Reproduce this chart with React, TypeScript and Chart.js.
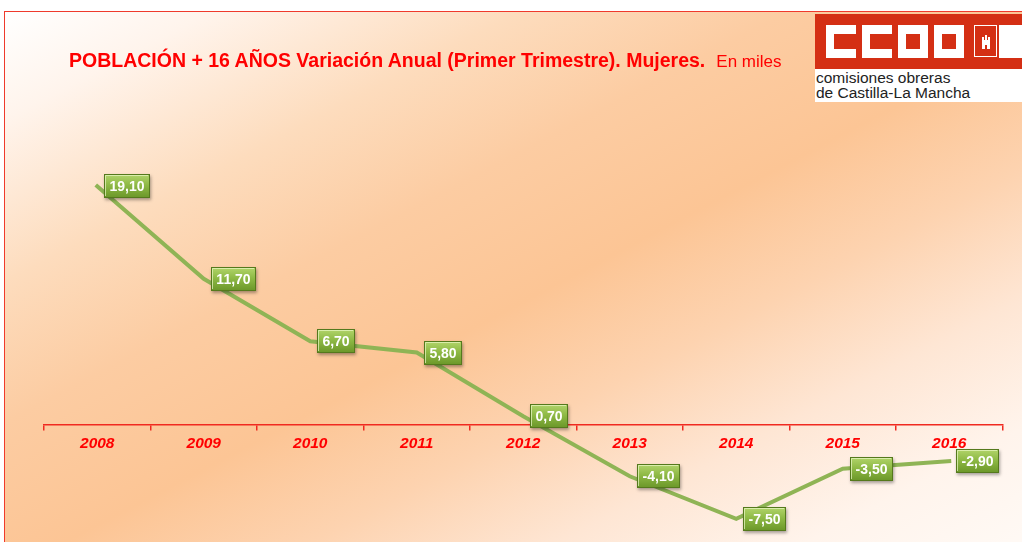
import React, { useEffect, useRef } from 'react';
import { Chart, registerables } from 'chart.js';

Chart.register(...registerables);

const years = ['2008', '2009', '2010', '2011', '2012', '2013', '2014', '2015', '2016'];
const values = [19.1, 11.7, 6.7, 5.8, 0.7, -4.1, -7.5, -3.5, -2.9];
const titleMain = 'POBLACIÓN + 16 AÑOS Variación Anual (Primer Trimestre). Mujeres.';
const titleUnit = 'En miles';
const logoLines = ['comisiones obreras', 'de Castilla-La Mancha'];

const FONT = '"Liberation Sans", Arial, Helvetica, sans-serif';
const LOGO_RED = '#d42f14';

const labelPlugin = {
  id: 'boxLabels',
  afterDatasetsDraw(chart: any) {
    const ctx = chart.ctx as CanvasRenderingContext2D;
    const meta = chart.getDatasetMeta(0);
    ctx.save();
    ctx.font = `bold 14px ${FONT}`;
    meta.data.forEach((pt: any, i: number) => {
      const text = values[i].toFixed(2).replace('.', ',');
      const tw = ctx.measureText(text).width;
      const w = Math.round(tw + 11);
      const h = 24;
      const x = Math.round(pt.x + 7);
      const y = Math.round(pt.y - h / 2);
      ctx.shadowColor = 'rgba(0,0,0,0.35)';
      ctx.shadowBlur = 3;
      ctx.shadowOffsetX = 1;
      ctx.shadowOffsetY = 2;
      const g = ctx.createLinearGradient(0, y, 0, y + h);
      g.addColorStop(0, '#b3d56c');
      g.addColorStop(0.45, '#8fba46');
      g.addColorStop(1, '#6a9628');
      ctx.fillStyle = g;
      ctx.fillRect(x, y, w, h);
      ctx.shadowColor = 'transparent';
      ctx.strokeStyle = '#55791d';
      ctx.lineWidth = 1;
      ctx.strokeRect(x + 0.5, y + 0.5, w - 1, h - 1);
      ctx.strokeStyle = 'rgba(235,250,200,0.7)';
      ctx.beginPath();
      ctx.moveTo(x + 1.5, y + h - 2);
      ctx.lineTo(x + 1.5, y + 1.5);
      ctx.lineTo(x + w - 2, y + 1.5);
      ctx.stroke();
      ctx.fillStyle = '#ffffff';
      ctx.textAlign = 'center';
      ctx.textBaseline = 'middle';
      ctx.fillText(text, x + w / 2, y + h / 2 + 1);
    });
    ctx.restore();
  },
};

function Letter({ left, open }: { left: number; open: boolean }) {
  return (
    <div style={{ position: 'absolute', left, top: 11, width: 30, height: 33, background: '#ffffff' }}>
      <div style={{ position: 'absolute', left: 8, top: 9, width: open ? 22 : 14, height: 15, background: LOGO_RED }} />
    </div>
  );
}

export default function App() {
  const ref = useRef<HTMLCanvasElement | null>(null);

  useEffect(() => {
    if (!ref.current) return;
    const chart = new Chart(ref.current, {
      type: 'line',
      data: {
        labels: years,
        datasets: [
          {
            data: values,
            borderColor: '#8fb455',
            borderWidth: 4,
            pointRadius: 0,
            tension: 0,
            borderCapStyle: 'square',
            fill: false,
          },
        ],
      },
      options: {
        animation: false,
        responsive: false,
        layout: { padding: { left: 44, right: 19.5, top: 112.5, bottom: 2 } },
        plugins: {
          legend: { display: false },
          tooltip: { enabled: false },
          title: { display: false },
        },
        scales: {
          x: {
            type: 'category',
            position: { y: 0 } as any,
            offset: true,
            grid: {
              display: true,
              offset: true,
              drawOnChartArea: false,
              drawTicks: true,
              tickLength: 5,
              color: '#f02a20',
              lineWidth: 1.5,
            },
            border: { display: true, color: '#f02a20', width: 1.5 },
            ticks: {
              color: '#ff0000',
              padding: 4,
              maxRotation: 0,
              font: { family: FONT, size: 15.5, weight: 'bold', style: 'italic' },
            },
          },
          y: {
            display: false,
            min: -9.2,
            max: 25,
          },
        },
      },
      plugins: [labelPlugin],
    });
    return () => chart.destroy();
  }, []);

  return (
    <div style={{ position: 'fixed', left: 0, top: 0, width: 1022, height: 542, background: '#ffffff', overflow: 'hidden', fontFamily: FONT }}>
      <div
        style={{
          position: 'absolute',
          left: 4,
          top: 11,
          width: 1030,
          height: 540,
          borderTop: '1.5px solid #ef3a2c',
          borderLeft: '1.5px solid #ef3a2c',
          background:
            'linear-gradient(to bottom right, #ffffff 0%, #fff4ec 10%, #fddcbd 25%, #fccca2 38%, #fcc595 52%, #fdd3b0 64%, #fee6d4 76%, #fff4ec 88%, #fffaf6 100%)',
        }}
      />
      <canvas ref={ref} width={1022} height={542} style={{ position: 'absolute', left: 0, top: 0 }} />
      <div style={{ position: 'absolute', left: 69, top: 48, whiteSpace: 'nowrap', color: '#ff0000', lineHeight: '24px' }}>
        <span style={{ fontWeight: 'bold', fontSize: 19.5 }}>{titleMain}</span>
        <span style={{ fontSize: 17, marginLeft: 11 }}>{titleUnit}</span>
      </div>
      {/* Logo */}
      <div style={{ position: 'absolute', left: 815, top: 14, width: 207, height: 55, background: LOGO_RED }}>
        <Letter left={11} open={true} />
        <Letter left={47} open={true} />
        <Letter left={83} open={false} />
        <Letter left={119} open={false} />
        <div style={{ position: 'absolute', left: 159, top: 11, width: 21, height: 30, border: '1.5px solid #ffffff', background: LOGO_RED }}>
          <div style={{ position: 'absolute', left: 7, top: 14, width: 8, height: 9, background: '#ffffff' }}>
            <div style={{ position: 'absolute', left: 3, top: 5, width: 2, height: 4, background: LOGO_RED }} />
          </div>
          <div style={{ position: 'absolute', left: 7, top: 11, width: 2, height: 3, background: '#ffffff' }} />
          <div style={{ position: 'absolute', left: 10, top: 9, width: 2, height: 5, background: '#ffffff' }} />
          <div style={{ position: 'absolute', left: 13, top: 11, width: 2, height: 3, background: '#ffffff' }} />
        </div>
        <div style={{ position: 'absolute', left: 184, top: 11, width: 23, height: 33, background: '#ffffff' }} />
      </div>
      <div style={{ position: 'absolute', left: 815, top: 69, width: 207, height: 33, background: '#ffffff' }}>
        {logoLines.map((t, i) => (
          <div key={i} style={{ position: 'absolute', left: 1, top: 1 + i * 15, fontSize: 15.5, lineHeight: '16px', color: '#222222', whiteSpace: 'nowrap' }}>
            {t}
          </div>
        ))}
      </div>
    </div>
  );
}
